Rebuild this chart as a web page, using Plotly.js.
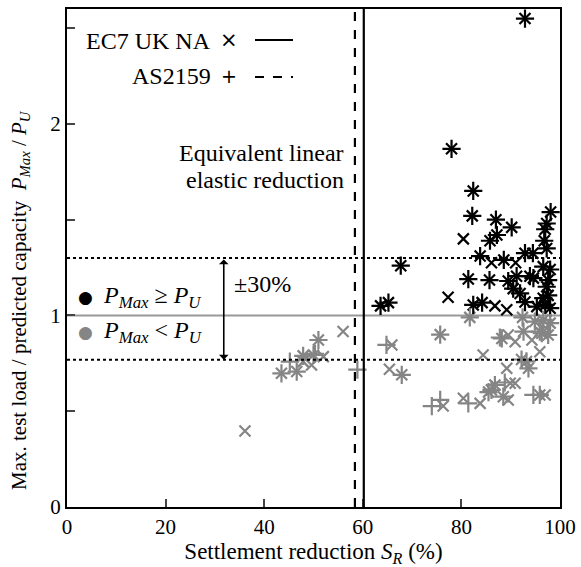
<!DOCTYPE html>
<html><head><meta charset="utf-8">
<script src="https://cdn.plot.ly/plotly-3.0.1.min.js"></script>
<style>body{margin:0;background:#fff}</style>
</head><body><div id="chart" style="width:581px;height:567px"></div>
<script>
// EC7 UK NA results (× markers)
const ec7X = [92.9,78.0,82.4,82.2,87.0,90.2,98.1,97.3,97.0,85.8,87.2,96.8,97.3,92.9,94.5,83.8,88.6,67.7,98.0,96.6,81.4,85.7,89.5,91.2,93.9,94.6,97.6,97.3,90.5,91.9,97.6,96.6,65.2,63.6,82.4,84.2,92.9,95.3,97.0,98.0,
  80.4,86.1,91.0,77.3,86.8,89.2,
  81.7,75.7,92.4,94.9,96.6,98.0,95.9,97.6,96.3,88.2,92.6,93.2,92.2,93.6,67.9,86.1,85.5,86.8,88.5,51.0,47.9,50.0,46.6,43.5,95.9,
  56.0,89.5,90.9,94.3,65.9,95.9,84.4,65.4,89.2,89.9,90.9,89.5,97.0,76.3,80.4,83.8,36.1,52.0,49.6,47.9];
const ec7Y = [2.55,1.87,1.65,1.52,1.50,1.46,1.54,1.48,1.45,1.39,1.42,1.39,1.35,1.325,1.325,1.31,1.29,1.26,1.24,1.255,1.19,1.185,1.18,1.205,1.205,1.195,1.185,1.15,1.14,1.115,1.105,1.09,1.067,1.05,1.055,1.067,1.07,1.046,1.055,1.038,
  1.40,1.275,1.275,1.095,1.05,1.03,
  0.99,0.90,0.99,0.968,0.977,0.96,0.916,0.898,0.907,0.88,0.916,0.76,0.77,0.724,0.69,0.611,0.60,0.637,0.576,0.872,0.789,0.794,0.707,0.698,0.585,
  0.916,0.898,0.863,0.872,0.846,0.811,0.794,0.719,0.724,0.646,0.646,0.559,0.585,0.527,0.568,0.541,0.397,0.785,0.741,0.759];
// AS2159 results (+ markers)
const asX = [92.9,78.0,82.4,82.2,87.0,90.2,98.1,97.3,97.0,85.8,87.2,96.8,97.3,92.9,94.5,83.8,88.6,67.7,98.0,96.6,81.4,85.7,89.5,91.2,93.9,94.6,97.6,97.3,90.5,91.9,97.6,96.6,65.2,63.6,82.4,84.2,92.9,95.3,97.0,98.0,
  81.7,75.7,92.4,94.9,96.6,98.0,95.9,97.6,96.3,88.2,92.6,93.2,92.2,93.6,67.9,86.1,85.5,86.8,88.5,51.0,47.9,50.0,46.6,43.5,95.9,
  64.8,58.9,74.0,75.7,81.4,94.6,45.2,87.8,88.8,50.3];
const asY = [2.55,1.87,1.65,1.52,1.50,1.46,1.54,1.48,1.45,1.39,1.42,1.39,1.35,1.325,1.325,1.31,1.29,1.26,1.24,1.255,1.19,1.185,1.18,1.205,1.205,1.195,1.185,1.15,1.14,1.115,1.105,1.09,1.067,1.05,1.055,1.067,1.07,1.046,1.055,1.038,
  0.99,0.90,0.99,0.968,0.977,0.96,0.916,0.898,0.907,0.88,0.916,0.76,0.77,0.724,0.69,0.611,0.60,0.637,0.576,0.872,0.789,0.794,0.707,0.698,0.585,
  0.846,0.717,0.527,0.559,0.541,0.585,0.759,0.885,0.65,0.80];
const ec7Limit = 60.2;   // equivalent linear elastic reduction, EC7
const asLimit = 58.4;    // equivalent linear elastic reduction, AS2159
const upperBand = 1.3, lowerBand = 1/1.3;

const BLACK = '#000000', GREY = '#858585';
const col = ys => ys.map(v => v >= 1 ? BLACK : GREY);
const serif = 'Liberation Serif, Times New Roman, serif';
const FS = 23;
const px = p => (p - 67) / 493;   // helper: pixel -> paper x
const py = p => (507 - p) / 498;  // helper: pixel -> paper y

const traces = [
  {x: ec7X, y: ec7Y, type: 'scatter', mode: 'markers', hoverinfo: 'skip',
   marker: {symbol: 'x-thin-open', size: 11, color: col(ec7Y), line: {width: 2.2, color: col(ec7Y)}}},
  {x: asX, y: asY, type: 'scatter', mode: 'markers', hoverinfo: 'skip',
   marker: {symbol: 'cross-thin-open', size: 13, color: col(asY), line: {width: 2.2, color: col(asY)}}}
];

const ann = (x, y, text, opts) => Object.assign({xref: 'paper', yref: 'paper', x: px(x), y: py(y), text: text,
  showarrow: false, xanchor: 'center', yanchor: 'middle'}, opts || {});

const layout = {
  width: 581, height: 567,
  margin: {l: 67, r: 21, t: 9, b: 60},
  paper_bgcolor: '#fff', plot_bgcolor: '#fff',
  showlegend: false,
  font: {family: serif, size: FS, color: '#000'},
  xaxis: {range: [0, 100], tickvals: [0,20,40,60,80,100], ticks: 'inside', ticklen: 8, tickwidth: 2,
    showline: true, mirror: true, linewidth: 2, linecolor: '#000', showgrid: false, zeroline: false,
    tickfont: {family: serif, size: 21},
    title: {text: 'Settlement reduction <i>S</i><sub><i>R</i></sub> (%)', font: {family: serif, size: FS}, standoff: 7}},
  yaxis: {range: [0, 2.6], tickvals: [0,0.5,1,1.5,2,2.5], ticktext: ['0','','1','','2',''],
    ticks: 'inside', ticklen: 8, tickwidth: 2,
    showline: true, mirror: true, linewidth: 2, linecolor: '#000', showgrid: false, zeroline: false,
    tickfont: {family: serif, size: 21}},
  shapes: [
    {type: 'line', xref: 'paper', x0: 0, x1: 1, yref: 'y', y0: 1, y1: 1, line: {color: '#999', width: 2}, layer: 'below'},
    {type: 'line', xref: 'paper', x0: 0, x1: 1, yref: 'y', y0: upperBand, y1: upperBand, line: {color: '#000', width: 2, dash: 'dot'}},
    {type: 'line', xref: 'paper', x0: 0, x1: 1, yref: 'y', y0: lowerBand, y1: lowerBand, line: {color: '#000', width: 2, dash: 'dot'}},
    {type: 'line', xref: 'x', x0: ec7Limit, x1: ec7Limit, yref: 'paper', y0: 0, y1: 1, line: {color: '#000', width: 2.2}},
    {type: 'line', xref: 'x', x0: asLimit, x1: asLimit, yref: 'paper', y0: 0, y1: 1, line: {color: '#000', width: 2.2, dash: 'dash'}},
    // key lines
    {type: 'line', xref: 'paper', yref: 'paper', x0: px(255), x1: px(293), y0: py(40), y1: py(40), line: {color: '#000', width: 2}},
    {type: 'line', xref: 'paper', yref: 'paper', x0: px(255), x1: px(293), y0: py(77), y1: py(77), line: {color: '#000', width: 2, dash: 'dash'}}
  ],
  annotations: [
    ann(20, 300, 'Max. test load / predicted capacity  <i>P</i><sub><i>Max</i></sub> / <i>P</i><sub><i>U</i></sub>', {textangle: -90, font: {size: 21}}),
    ann(213, 41, 'EC7 UK NA', {xanchor: 'right', font: {size: 24}}),
    ann(229, 40, '×', {font: {size: 21, family: 'DejaVu Sans'}}),
    ann(213, 76, 'AS2159', {xanchor: 'right', font: {size: 24}}),
    ann(229, 76, '+', {font: {size: 19, family: 'DejaVu Sans'}}),
    ann(346, 153, 'Equivalent linear', {xanchor: 'right', font: {size: 24}}),
    ann(346, 180, 'elastic reduction', {xanchor: 'right', font: {size: 24}}),
    {xref: 'x', yref: 'y', x: 31.8, y: lowerBand, ax: 31.8, ay: upperBand, axref: 'x', ayref: 'y', text: '',
     showarrow: true, arrowside: 'end+start', arrowhead: 1, arrowsize: 1, arrowwidth: 1.6, arrowcolor: '#000'},
    ann(232, 284, '±30%', {xanchor: 'left', font: {size: 24}}),
    ann(85, 297, '●', {font: {size: 17, color: BLACK, family: 'DejaVu Sans'}}),
    ann(85, 332, '●', {font: {size: 17, color: GREY, family: 'DejaVu Sans'}}),
    ann(101, 297, '<i>P</i><sub><i>Max</i></sub> ≥ <i>P</i><sub><i>U</i></sub>', {xanchor: 'left', font: {size: 24}}),
    ann(101, 332, '<i>P</i><sub><i>Max</i></sub> < <i>P</i><sub><i>U</i></sub>', {xanchor: 'left', font: {size: 24}})
  ]
};
Plotly.newPlot('chart', traces, layout, {staticPlot: true, displayModeBar: false});
</script></body></html>
